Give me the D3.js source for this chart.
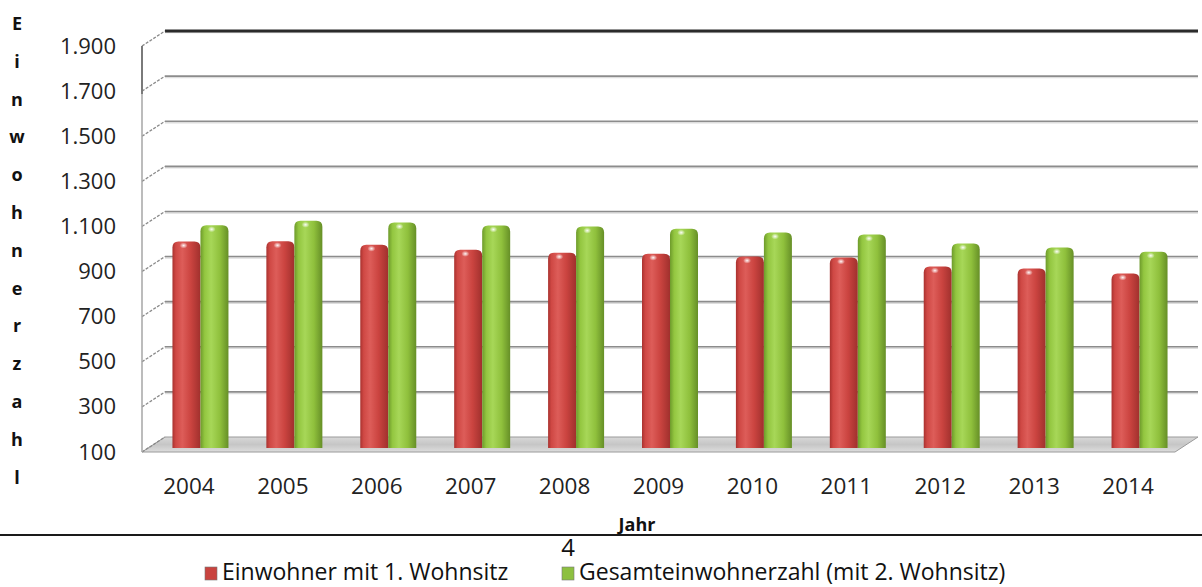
<!DOCTYPE html>
<html>
<head>
<meta charset="utf-8">
<script src="https://cdn.jsdelivr.net/npm/d3@7"></script>
<style>
  body { margin: 0; background: #fff; }
  svg { display: block; font-family: "Open Sans", "Noto Sans", sans-serif; }
</style>
</head>
<body>
<div class="chart"></div>
<script>
var years = ["2004", "2005", "2006", "2007", "2008", "2009", "2010", "2011", "2012", "2013", "2014"];
var ersterWohnsitz = [1000, 1001, 986, 963, 950, 946, 933, 929, 889, 880, 858];
var gesamt = [1072, 1092, 1084, 1071, 1066, 1057, 1040, 1031, 991, 973, 955];
var yTicks = [100, 300, 500, 700, 900, 1100, 1300, 1500, 1700, 1900];
var seriesNames = ["Einwohner mit 1. Wohnsitz", "Gesamteinwohnerzahl (mit 2. Wohnsitz)"];
var yTitle = "Einwohnerzahl";
var xTitle = "Jahr";

var width = 1202, height = 587;
var depthX = 23, depthY = -15;   // Versatz Rückwand (3D)
var barW = 28;

var svg = d3.select('.chart').append('svg').attr('width', width).attr('height', height);
var defs = svg.append('defs');

var de = d3.formatLocale({decimal: ",", thousands: ".", grouping: [3], currency: ["", "€"]});
var fmt = de.format(",");

var x = d3.scaleBand().domain(years).range([142, 1175]).padding(0);
var y = d3.scaleLinear().domain([100, 1900]).range([452, 46]);

function barGradient(id, stops) {
  var g = defs.append('linearGradient').attr('id', id).attr('x1', 0).attr('x2', 1).attr('y1', 0).attr('y2', 0);
  stops.forEach(function(s) { g.append('stop').attr('offset', s[0]).attr('stop-color', s[1]); });
}
barGradient('redGrad', [["0%", "#a9322f"], ["12%", "#cf4844"], ["35%", "#dd5d59"], ["65%", "#cb4440"], ["100%", "#a0302d"]]);
barGradient('greenGrad', [["0%", "#6d9a2b"], ["15%", "#93c640"], ["38%", "#a7d758"], ["70%", "#8fc03c"], ["100%", "#668f27"]]);

var floorGrad = defs.append('linearGradient').attr('id', 'floorGrad').attr('x1', 0).attr('x2', 0).attr('y1', 0).attr('y2', 1);
floorGrad.append('stop').attr('offset', '0%').attr('stop-color', '#d8d8d8');
floorGrad.append('stop').attr('offset', '50%').attr('stop-color', '#c6c6c6');
floorGrad.append('stop').attr('offset', '100%').attr('stop-color', '#dddddd');

var shine = defs.append('radialGradient').attr('id', 'shine');
shine.append('stop').attr('offset', '0%').attr('stop-color', '#fff').attr('stop-opacity', 0.95);
shine.append('stop').attr('offset', '100%').attr('stop-color', '#fff').attr('stop-opacity', 0);

var x0 = x.range()[0], x1 = x.range()[1];

// Boden
svg.append('path')
  .attr('d', 'M' + x0 + ',' + y(100) + 'L' + x1 + ',' + y(100) + 'L' + (x1 + depthX) + ',' + (y(100) + depthY) +
    'L' + (x0 + depthX) + ',' + (y(100) + depthY) + 'Z')
  .attr('fill', 'url(#floorGrad)').attr('stroke', '#9a9a9a').attr('stroke-width', 1);

// Rückwand-Gitterlinien
var grid = svg.append('g');
grid.selectAll('line.shadow').data(yTicks.slice(1)).enter().append('line')
  .attr('x1', x0 + depthX).attr('x2', x1 + depthX)
  .attr('y1', function(d) { return y(d) + depthY + 1.5; }).attr('y2', function(d) { return y(d) + depthY + 1.5; })
  .attr('stroke', '#dedede').attr('stroke-width', 1.5);
grid.selectAll('line.main').data(yTicks.slice(1)).enter().append('line')
  .attr('x1', x0 + depthX).attr('x2', x1 + depthX)
  .attr('y1', function(d) { return y(d) + depthY; }).attr('y2', function(d) { return y(d) + depthY; })
  .attr('stroke', function(d) { return d === 1900 ? '#2b2b2b' : '#8c8c8c'; })
  .attr('stroke-width', function(d) { return d === 1900 ? 3 : 1.6; });

// Seitenwand: schräge Striche
grid.selectAll('line.side').data(yTicks).enter().append('line')
  .attr('x1', x0).attr('x2', x0 + depthX)
  .attr('y1', function(d) { return y(d); }).attr('y2', function(d) { return y(d) + depthY; })
  .attr('stroke', '#8a8a8a').attr('stroke-width', 1.3).attr('stroke-dasharray', '3,1.5');

svg.append('line').attr('x1', x0).attr('x2', x0).attr('y1', y(1900)).attr('y2', y(100))
  .attr('stroke', '#a6a6a6').attr('stroke-width', 1.5);
svg.append('line').attr('x1', x0).attr('x2', x0).attr('y1', y(1900)).attr('y2', y(1700) + 3)
  .attr('stroke', '#7a7a7a').attr('stroke-width', 2);

// Säulen
function barPath(left, top, w, bottom) {
  var r = 6;
  return 'M' + left + ',' + bottom + 'L' + left + ',' + (top + r) +
    'Q' + left + ',' + top + ' ' + (left + r) + ',' + top +
    'L' + (left + w - r) + ',' + top +
    'Q' + (left + w) + ',' + top + ' ' + (left + w) + ',' + (top + r) +
    'L' + (left + w) + ',' + bottom + 'Z';
}
var barBottom = y(100) - 4;
function center(yr) { return x(yr) + x.bandwidth() / 2 + depthX / 2; }

var series = [
  {name: seriesNames[0], values: ersterWohnsitz, fill: 'url(#redGrad)', off: -barW, key: '#c9433f'},
  {name: seriesNames[1], values: gesamt, fill: 'url(#greenGrad)', off: 0, key: '#8dc040'}
];

series.forEach(function(s) {
  var g = svg.append('g');
  g.selectAll('path').data(years).enter().append('path')
    .attr('d', function(d, i) { return barPath(center(d) + s.off, y(s.values[i]) + depthY / 2, barW, barBottom); })
    .attr('fill', s.fill);
  g.selectAll('ellipse').data(years).enter().append('ellipse')
    .attr('cx', function(d) { return center(d) + s.off + barW * 0.4; })
    .attr('cy', function(d, i) { return y(s.values[i]) + depthY / 2 + 4; })
    .attr('rx', 4).attr('ry', 3).attr('fill', 'url(#shine)');
});

// Achsen
var yAxis = svg.append('g').attr('transform', 'translate(' + x0 + ',0)')
  .call(d3.axisLeft(y).tickValues(yTicks).tickFormat(fmt).tickSize(0).tickPadding(26));
yAxis.select('.domain').remove();
yAxis.selectAll('text').attr('font-size', 22).attr('fill', '#222').attr('font-family', '"Open Sans", sans-serif');

var xAxis = svg.append('g').attr('transform', 'translate(0,' + y(100) + ')')
  .call(d3.axisBottom(x).tickSize(0).tickPadding(26));
xAxis.select('.domain').remove();
xAxis.selectAll('text').attr('font-size', 22.5).attr('fill', '#222').attr('font-family', '"Open Sans", sans-serif');

// Achsentitel
var yt = svg.append('text').attr('x', 17).attr('y', 30).attr('text-anchor', 'middle')
  .attr('font-weight', 'bold').attr('font-size', 18).attr('fill', '#111');
yTitle.split('').forEach(function(c, i) {
  yt.append('tspan').attr('x', 17).attr('dy', i === 0 ? 0 : 37.8).text(c);
});

svg.append('text').attr('x', 637).attr('y', 531).attr('text-anchor', 'middle')
  .attr('font-weight', 'bold').attr('font-size', 18).attr('fill', '#111').text(xTitle);

svg.append('line').attr('x1', 0).attr('x2', width).attr('y1', 535).attr('y2', 535)
  .attr('stroke', '#1a1a1a').attr('stroke-width', 2.2);

svg.append('text').attr('x', 568).attr('y', 556).attr('text-anchor', 'middle')
  .attr('font-size', 24).attr('fill', '#111').text('4');

// Legende
var legendX = [205, 562];
var legend = svg.append('g');
series.forEach(function(s, i) {
  legend.append('rect').attr('x', legendX[i]).attr('y', 567).attr('width', 12).attr('height', 13)
    .attr('fill', s.key).attr('stroke', '#777').attr('stroke-width', 0.6);
  legend.append('text').attr('x', legendX[i] + 17).attr('y', 580)
    .attr('font-size', 23).attr('fill', '#111').text(s.name);
});
</script>
</body>
</html>
